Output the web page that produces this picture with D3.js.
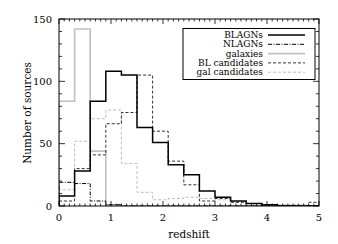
<!DOCTYPE html>
<html><head><meta charset="utf-8">
<script src="https://cdn.jsdelivr.net/npm/d3@7"></script>
<style>body{margin:0;background:#fff}svg{display:block}</style>
</head><body>
<svg id="c" width="338" height="244" font-family="DejaVu Serif, Liberation Serif, serif"></svg>
<script>
const binEdges = [0,0.3,0.6,0.9,1.2,1.5,1.8,2.1,2.4,2.7,3.0,3.3,3.6,3.9,4.2,4.5,4.8,5.1];
const blagn   = [8, 28, 84, 108, 105, 63, 51, 33, 25, 12, 7, 4, 2, 1, 0, 0, 0];
const nlagn   = [19, 18, 4, 1, 0, 0, 0, 0, 0, 0, 0, 0, 0, 0, 0, 0, 0];
const galaxies= [84, 142, 44, 1, 0, 0, 0, 0, 0, 0, 0, 0, 0, 0, 0, 0, 0];
const blCand  = [4, 30, 41, 66, 75, 105, 60, 36, 17, 4, 6, 3, 2, 1, 0, 0, 3];
const galCand = [13, 52, 70, 77, 34, 11, 5, 6, 7, 6, 5, 3, 2, 1, 1, 1, 0];
const xTicks = [0,1,2,3,4,5];
const yTicks = [0,50,100,150];
const seriesNames = ["BLAGNs","NLAGNs","galaxies","BL candidates","gal candidates"];

const series = [
  {name:seriesNames[0], v:blagn,   color:"#000", w:1.5, dash:null},
  {name:seriesNames[1], v:nlagn,   color:"#000", w:1,   dash:"4,1.5,1,1.5"},
  {name:seriesNames[2], v:galaxies,color:"#c0c0c0", w:1.6, dash:null},
  {name:seriesNames[3], v:blCand,  color:"#333", w:1,   dash:"3,2"},
  {name:seriesNames[4], v:galCand, color:"#bdbdbd", w:1,   dash:"3,2"}
];

const L=59,R=319,T=19,B=206;
const svg=d3.select("#c");
const x=d3.scaleLinear().domain([0,5]).range([L,R]);
const y=d3.scaleLinear().domain([0,150]).range([B,T]);

svg.append("defs").append("clipPath").attr("id","pc").append("rect")
  .attr("x",L).attr("y",T).attr("width",R-L).attr("height",B-T);

const g=svg.append("g").attr("clip-path","url(#pc)");
[4,2,3,1,0].forEach(i=>{
  const s=series[i];
  const pts=[[binEdges[0],0]];
  s.v.forEach((v,k)=>{pts.push([binEdges[k],v]);pts.push([binEdges[k+1],v]);});
  g.append("path").attr("d",d3.line().x(d=>x(d[0])).y(d=>y(d[1]))(pts))
    .attr("fill","none").attr("stroke",s.color).attr("stroke-width",s.w)
    .attr("stroke-dasharray",s.dash);
});

svg.append("rect").attr("x",L).attr("y",T).attr("width",R-L).attr("height",B-T)
  .attr("fill","none").attr("stroke","#000").attr("stroke-width",1);

const ax=svg.append("g").attr("stroke","#000").attr("stroke-width",0.8);
d3.range(0,50.5).map(d=>d/10).forEach(t=>{
  const major=Math.abs(t-Math.round(t))<1e-6;
  const len=major?5:2.5;
  const px=x(t);
  ax.append("line").attr("x1",px).attr("x2",px).attr("y1",B).attr("y2",B-len);
  ax.append("line").attr("x1",px).attr("x2",px).attr("y1",T).attr("y2",T+len);
});
d3.range(0,151,10).forEach(t=>{
  const major=t%50===0;
  const len=major?6:3;
  const py=y(t);
  ax.append("line").attr("x1",L).attr("x2",L+len).attr("y1",py).attr("y2",py);
  ax.append("line").attr("x1",R).attr("x2",R-len).attr("y1",py).attr("y2",py);
});

svg.append("g").selectAll("text").data(xTicks).join("text")
  .attr("x",d=>x(d)).attr("y",221).attr("text-anchor","middle")
  .attr("font-size",10).text(d=>d);
svg.append("g").selectAll("text").data(yTicks).join("text")
  .attr("x",52).attr("y",d=>y(d)+3.5).attr("text-anchor","end")
  .attr("font-size",10).text(d=>d);

svg.append("text").attr("x",x(2.5)).attr("y",238).attr("text-anchor","middle")
  .attr("font-size",10.5).text("redshift");
svg.append("text").attr("transform","translate(31,113) rotate(-90)")
  .attr("text-anchor","middle").attr("font-size",10.5).text("Number of sources");

const lg=svg.append("g");
lg.append("rect").attr("x",183).attr("y",28.5).attr("width",132).attr("height",51)
  .attr("fill","#fff").attr("stroke","#000").attr("stroke-width",1);
series.forEach((s,i)=>{
  const yy=35+i*9.3;
  lg.append("text").attr("x",263).attr("y",yy+3).attr("text-anchor","end")
    .attr("font-size",9).text(s.name);
  lg.append("line").attr("x1",268).attr("x2",305).attr("y1",yy).attr("y2",yy)
    .attr("stroke",s.color).attr("stroke-width",s.w).attr("stroke-dasharray",s.dash);
});
</script>
</body></html>
